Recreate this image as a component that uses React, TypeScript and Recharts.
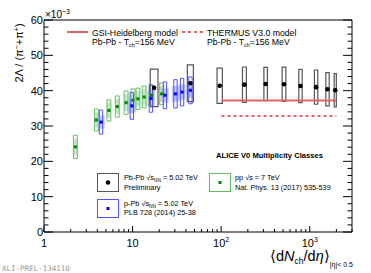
import { ComposedChart, XAxis, YAxis, Scatter, ReferenceArea, ReferenceLine } from "recharts";

const W = 371;
const H = 273;
const FONT = "'Liberation Sans', Arial, sans-serif";

// pp 7 TeV, V0M classes (Nat. Phys. 13 (2017) 535-539)
const ppMult = [2.26, 3.9, 5.4, 6.72, 8.45, 10.1, 11.5, 13.5, 16.5, 21.3];
const ppRatio = [24.1, 31.7, 34.4, 35.5, 36.6, 37.3, 37.7, 38.2, 38.7, 39.1];
const ppSys = [3.3, 3.1, 3.0, 3.0, 3.3, 3.2, 3.0, 3.1, 2.7, 3.1];

// p-Pb 5.02 TeV (PLB 728 (2014) 25-38)
const pPbMult = [4.4, 9.8, 16.1, 23.2, 30.5, 36.2, 45.0];
const pPbRatio = [31.1, 35.7, 37.8, 38.7, 39.1, 39.6, 40.1];
const pPbSys = [3.4, 3.8, 3.9, 3.8, 4.0, 3.9, 3.8];

// Pb-Pb 5.02 TeV preliminary
const pbPbMult = [17.5, 44.9, 96.3, 183, 318, 512, 786, 1180, 1587, 1942];
const pbPbRatio = [40.8, 42.1, 41.4, 41.7, 41.9, 41.8, 41.3, 41.0, 40.4, 40.1];
const pbPbSys = [5.3, 5.2, 5.0, 5.0, 4.7, 4.85, 4.7, 4.85, 4.7, 4.7];

// thermal model lines (Pb-Pb, T_ch = 156 MeV)
const modelRange = [101, 2000];
const gsiValue = 37.2;
const thermusValue = 32.8;

const xMajor = [1, 10, 100, 1000];
const xMinor = [2, 3, 4, 5, 6, 7, 8, 9, 20, 30, 40, 50, 60, 70, 80, 90, 200, 300, 400, 500, 600, 700, 800, 900, 2000, 3000];
const xLabels = ["1", "10", "10", "10"];
const xLabelExp = ["", "", "2", "3"];
const yMajor = [0, 10, 20, 30, 40, 50, 60];
const yMinor = [2, 4, 6, 8, 12, 14, 16, 18, 22, 24, 26, 28, 32, 34, 36, 38, 42, 44, 46, 48, 52, 54, 56, 58];

// box half-widths in decades of the log axis
const pbPbHalf = [0.044, 0.034, 0.03, 0.022, 0.02, 0.021, 0.019, 0.019, 0.019, 0.012];
const ppHalf = 0.022;
const pPbHalf = 0.019;
const pPbFillHalf = 0.04;

const span = (x: number, hd: number): [number, number] => [x / Math.pow(10, hd), x * Math.pow(10, hd)];

const ppPoints = ppMult.map((x, i) => ({ x, y: ppRatio[i] }));
const pPbPoints = pPbMult.map((x, i) => ({ x, y: pPbRatio[i] }));
const pbPbPoints = pbPbMult.map((x, i) => ({ x, y: pbPbRatio[i] }));

const allX = [...xMajor, ...xMinor].sort((a, b) => a - b);
const allY = [...yMajor, ...yMinor].sort((a, b) => a - b);

function BottomTick({ x, y, payload }: any) {
  const i = xMajor.indexOf(payload.value);
  const len = i >= 0 ? 6 : 3;
  return (
    <g>
      <line x1={x} x2={x} y1={y} y2={y - len} stroke="#000" />
      {i >= 0 && (
        <text x={x} y={y + 15} textAnchor="middle" fontSize={11} fontFamily={FONT} fill="#000">
          {xLabels[i]}
          {xLabelExp[i] && (
            <tspan dy={-5} fontSize={7}>
              {xLabelExp[i]}
            </tspan>
          )}
        </text>
      )}
    </g>
  );
}

function TopTick({ x, y, payload }: any) {
  const len = xMajor.includes(payload.value) ? 6 : 3;
  return <line x1={x} x2={x} y1={y} y2={y + len} stroke="#000" />;
}

function LeftTick({ x, y, payload }: any) {
  const major = yMajor.includes(payload.value);
  return (
    <g>
      <line x1={x} x2={x + (major ? 9 : 4.5)} y1={y} y2={y} stroke="#000" />
      {major && (
        <text x={x - 1} y={y + 4} textAnchor="end" fontSize={11} fontFamily={FONT} fill="#000">
          {payload.value}
        </text>
      )}
    </g>
  );
}

function RightTick({ x, y, payload }: any) {
  const len = yMajor.includes(payload.value) ? 9 : 4.5;
  return <line x1={x} x2={x - len} y1={y} y2={y} stroke="#000" />;
}

const dot = (fill: string, r: number) => (p: any) => (
  <circle cx={p.cx} cy={p.cy} r={r} fill={fill} />
);
const square = (fill: string, s: number) => (p: any) => (
  <rect x={p.cx - s / 2} y={p.cy - s / 2} width={s} height={s} fill={fill} />
);

const GREEN_LINE = "rgb(100,190,100)";
const GREEN_FILL = "rgb(195,232,195)";
const GREEN_DOT = "rgb(0,135,0)";
const BLUE_LINE = "rgb(80,80,255)";
const BLUE_FILL = "rgb(175,185,255)";
const BLUE_DOT = "rgb(0,0,255)";
const RED = "rgb(228,100,100)";

function Overlay() {
  const t = { fontFamily: FONT, fill: "#000" } as const;
  return (
    <svg width={W} height={H} style={{ position: "absolute", left: 0, top: 0, pointerEvents: "none" }}>
      <text x={45} y={18} fontSize={10} {...t}>
        ×10<tspan dy={-4} fontSize={7}>−3</tspan>
      </text>
      <text transform="translate(23,53) rotate(-90)" textAnchor="middle" fontSize={11} {...t}>
        2Λ / (π<tspan dy={-4} fontSize={7}>−</tspan>
        <tspan dy={4}>+π</tspan>
        <tspan dy={-4} fontSize={7}>+</tspan>
        <tspan dy={4}>)</tspan>
      </text>
      <text x={270} y={261} fontSize={14.5} {...t}>
        ⟨d<tspan fontStyle="italic">N</tspan>
        <tspan dy={3} fontSize={8.5}>ch</tspan>
        <tspan dy={-3}>/d</tspan>
        <tspan fontStyle="italic">η</tspan>⟩
        <tspan dy={6} fontSize={7}>|η|&lt; 0.5</tspan>
      </text>

      <line x1={67} x2={88} y1={32} y2={32} stroke={RED} strokeWidth={2} />
      <text x={92} y={35.5} fontSize={8.7} {...t}>GSI-Heidelberg model</text>
      <text x={92} y={45} fontSize={8.7} {...t}>
        Pb-Pb - T<tspan dy={2} fontSize={5.5}>ch</tspan>
        <tspan dy={-2}>=156 MeV</tspan>
      </text>
      <line x1={182} x2={204} y1={32} y2={32} stroke={RED} strokeWidth={2} strokeDasharray="3 3" />
      <text x={207} y={35.5} fontSize={8.7} {...t}>THERMUS V3.0 model</text>
      <text x={207} y={45} fontSize={8.7} {...t}>
        Pb-Pb - T<tspan dy={2} fontSize={5.5}>ch</tspan>
        <tspan dy={-2}>=156 MeV</tspan>
      </text>

      <text x={269.5} y={158} textAnchor="middle" fontSize={7.6} fontWeight="bold" {...t}>
        ALICE V0 Multiplicity Classes
      </text>

      <rect x={97.5} y={173.5} width={21} height={18} fill="none" stroke="#555" />
      <circle cx={108} cy={182.5} r={2.3} fill="#000" />
      <text x={124} y={179.5} fontSize={7.3} {...t}>
        Pb-Pb √s<tspan dy={2} fontSize={4.8}>NN</tspan>
        <tspan dy={-2}> = 5.02 TeV</tspan>
      </text>
      <text x={124} y={190} fontSize={7.3} {...t}>Preliminary</text>

      <rect x={97.5} y={199.5} width={21} height={18} fill="none" stroke={BLUE_LINE} />
      <rect x={106.5} y={207} width={3} height={3} fill={BLUE_DOT} />
      <text x={124} y={205.5} fontSize={7.3} {...t}>
        p-Pb √s<tspan dy={2} fontSize={4.8}>NN</tspan>
        <tspan dy={-2}> = 5.02 TeV</tspan>
      </text>
      <text x={124} y={215} fontSize={7.3} {...t}>PLB 728 (2014) 25-38</text>

      <rect x={209.5} y={173.5} width={21} height={18} fill="none" stroke={GREEN_LINE} />
      <rect x={218.5} y={181} width={3} height={3} fill={GREEN_DOT} />
      <text x={235} y={179.5} fontSize={7.3} {...t}>pp √s = 7 TeV</text>
      <text x={235} y={189.5} fontSize={7.3} {...t}>Nat. Phys. 13 (2017) 535-539</text>

      <text x={2} y={271} fontSize={7.5} fontFamily="'DejaVu Sans Mono', monospace" fill="#999">
        ALI-PREL-134110
      </text>
    </svg>
  );
}

export default function App() {
  return (
    <div style={{ position: "absolute", left: 0, top: 0, width: W, height: H, background: "#fff" }}>
      <ComposedChart width={W} height={H} margin={{ top: 0, right: 0, bottom: 0, left: 0 }}>
        <XAxis
          xAxisId="bottom"
          type="number"
          scale="log"
          dataKey="x"
          domain={[1, 3000]}
          allowDataOverflow
          ticks={allX}
          interval={0}
          height={41}
          tickSize={0}
          tickMargin={0}
          tickLine={false}
          axisLine={{ stroke: "#000" }}
          tick={<BottomTick />}
        />
        <XAxis
          xAxisId="top"
          orientation="top"
          type="number"
          scale="log"
          domain={[1, 3000]}
          allowDataOverflow
          ticks={allX}
          interval={0}
          height={20}
          tickSize={0}
          tickMargin={0}
          tickLine={false}
          axisLine={{ stroke: "#000" }}
          tick={<TopTick />}
        />
        <YAxis
          yAxisId="left"
          type="number"
          domain={[0, 60]}
          allowDataOverflow
          ticks={allY}
          interval={0}
          width={44}
          tickSize={0}
          tickMargin={0}
          tickLine={false}
          axisLine={{ stroke: "#000" }}
          tick={<LeftTick />}
        />
        <YAxis
          yAxisId="right"
          orientation="right"
          type="number"
          domain={[0, 60]}
          allowDataOverflow
          ticks={allY}
          interval={0}
          width={19}
          tickSize={0}
          tickMargin={0}
          tickLine={false}
          axisLine={{ stroke: "#000" }}
          tick={<RightTick />}
        />

        {ppMult.map((x, i) => {
          const [a, b] = span(x, ppHalf);
          return (
            <ReferenceArea
              key={`ppf${i}`}
              xAxisId="bottom"
              yAxisId="left"
              x1={a}
              x2={b}
              y1={ppRatio[i] - ppSys[i] * 0.7}
              y2={ppRatio[i] + ppSys[i] * 0.7}
              fill={GREEN_FILL}
              fillOpacity={1}
              stroke="none"
            />
          );
        })}
        {ppMult.map((x, i) => {
          const [a, b] = span(x, ppHalf);
          return (
            <ReferenceArea
              key={`ppb${i}`}
              xAxisId="bottom"
              yAxisId="left"
              x1={a}
              x2={b}
              y1={ppRatio[i] - ppSys[i]}
              y2={ppRatio[i] + ppSys[i]}
              fill="none"
              stroke={GREEN_LINE}
              strokeWidth={1}
            />
          );
        })}
        {pPbMult.map((x, i) => {
          const [a, b] = span(x, pPbFillHalf);
          return (
            <ReferenceArea
              key={`pPbf${i}`}
              xAxisId="bottom"
              yAxisId="left"
              x1={a}
              x2={b}
              y1={pPbRatio[i] - pPbSys[i] * 0.55}
              y2={pPbRatio[i] + pPbSys[i] * 0.55}
              fill={BLUE_FILL}
              fillOpacity={0.8}
              stroke="none"
            />
          );
        })}
        {pPbMult.map((x, i) => {
          const [a, b] = span(x, pPbHalf);
          return (
            <ReferenceArea
              key={`pPbb${i}`}
              xAxisId="bottom"
              yAxisId="left"
              x1={a}
              x2={b}
              y1={pPbRatio[i] - pPbSys[i]}
              y2={pPbRatio[i] + pPbSys[i]}
              fill="none"
              stroke={BLUE_LINE}
              strokeWidth={1}
            />
          );
        })}
        {pbPbMult.map((x, i) => {
          const [a, b] = span(x, pbPbHalf[i]);
          return (
            <ReferenceArea
              key={`pbpb${i}`}
              xAxisId="bottom"
              yAxisId="left"
              x1={a}
              x2={b}
              y1={pbPbRatio[i] - pbPbSys[i]}
              y2={pbPbRatio[i] + pbPbSys[i]}
              fill="none"
              stroke="#555"
              strokeWidth={1.2}
            />
          );
        })}

        <ReferenceLine
          xAxisId="bottom"
          yAxisId="left"
          segment={[
            { x: modelRange[0], y: gsiValue },
            { x: modelRange[1], y: gsiValue },
          ]}
          stroke={RED}
          strokeWidth={2}
        />
        <ReferenceLine
          xAxisId="bottom"
          yAxisId="left"
          segment={[
            { x: modelRange[0], y: thermusValue },
            { x: modelRange[1], y: thermusValue },
          ]}
          stroke={RED}
          strokeWidth={2}
          strokeDasharray="3 3"
        />

        <Scatter xAxisId="bottom" yAxisId="left" data={ppPoints} dataKey="y" shape={square(GREEN_DOT, 3)} isAnimationActive={false} />
        <Scatter xAxisId="bottom" yAxisId="left" data={pPbPoints} dataKey="y" shape={square(BLUE_DOT, 3)} isAnimationActive={false} />
        <Scatter xAxisId="bottom" yAxisId="left" data={pbPbPoints} dataKey="y" shape={dot("#000", 2.3)} isAnimationActive={false} />
      </ComposedChart>
      <Overlay />
    </div>
  );
}
